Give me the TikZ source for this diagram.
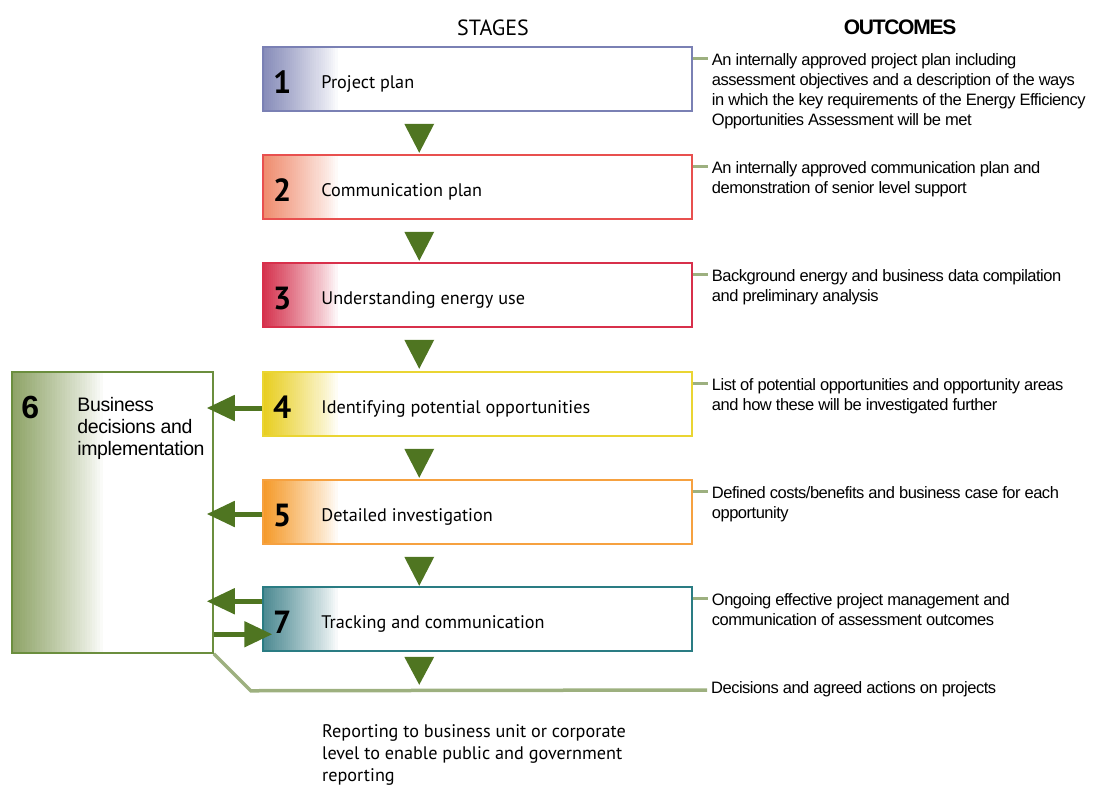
\documentclass[tikz,border=0pt]{standalone}
\usepackage{fontspec}
\setmainfont{PT Sans}
\newfontfamily\outfont[LetterSpace=-3]{Liberation Sans}
\newfontfamily\sidefont[LetterSpace=-2]{Liberation Sans}
\newfontfamily\headfont[LetterSpace=-6]{Liberation Sans}
\usetikzlibrary{arrows.meta,calc}

\definecolor{darkgreen}{RGB}{79,117,33}
\definecolor{palegreen}{RGB}{157,176,127}
\definecolor{blueA}{RGB}{135,140,185}\definecolor{blueB}{RGB}{122,128,180}
\definecolor{redA}{RGB}{239,140,110}\definecolor{redB}{RGB}{232,80,79}
\definecolor{crimA}{RGB}{213,52,79}\definecolor{crimB}{RGB}{216,48,75}
\definecolor{yelA}{RGB}{232,206,32}\definecolor{yelB}{RGB}{234,213,50}
\definecolor{orA}{RGB}{245,154,42}\definecolor{orB}{RGB}{246,161,64}
\definecolor{tealA}{RGB}{77,138,146}\definecolor{tealB}{RGB}{42,124,131}
\definecolor{grnA}{RGB}{143,164,104}\definecolor{grnB}{RGB}{107,142,62}

\tikzset{
  stagebox/.style={draw, line width=1.5pt, fill=white, minimum width=429pt,
    minimum height=64pt, inner sep=0pt},
  digit/.style={font=\fontsize{32}{32}\selectfont\bfseries, inner sep=0pt},
  stagelabel/.style={font=\fontsize{18.2}{22}\selectfont, inner sep=0pt},
  outcome/.style={font=\outfont\fontsize{16.5}{20}\selectfont, align=left,
    inner sep=0pt, anchor=north west},
  downtri/.style={fill=darkgreen},
  sidearrow/.style={draw=darkgreen, line width=5pt,
    -{Triangle[length=28pt,width=25pt]}},
  outlink/.style={draw=palegreen, line width=3.5pt},
}

% colour fading to white over the left part of a box (strips)
\newcommand\fadeleft[2]{% colour, width
  \foreach \i in {0,...,35}{%
    \pgfmathsetmacro\p{100*(1-\i/36)^0.85}%
    \fill[#1!\p!white]
      ($(path picture bounding box.north west)+({#2*\i/36},0)$) rectangle
      ($(path picture bounding box.south west)+({#2*(\i+1)/36+0.6},0)$);}%
}
% one stage: name, top edge, gradient colour, border colour, number, label
\newcommand\stagebox[6]{%
  \node[stagebox, draw=#4, path picture={\fadeleft{#3}{74}}]
    (#1) at (477.5,{#2+32}) {};
  \node[digit, anchor=base] (#1n) at ($(#1.west)+(20,14)$) {#5};
  \node[stagelabel, anchor=base west] (#1t) at ($(#1.west)+(59,9)$) {#6};
}
% downward triangle below a stage: name, gap above, tip offset
\newcommand\tribelow[3]{%
  \fill[downtri] ($(#1.south west)+(142,#2)$) -- ($(#1.south west)+(172,#2)$)
    -- ($(#1.south west)+(157,#3)$) -- cycle;
}
% outcome text with its short link from the stage
\newcommand\outcome[3]{%
  \coordinate (#1c) at ($(#2.north east)+(15,12)$);
  \node[outcome] (#1) at ($(#2.north east)+(19,7)$) {#3};
  \draw[outlink] ($(#2.north east)+(0,12)$) -- (#1c);
}

\begin{document}
\begin{tikzpicture}[x=1pt,y=-1pt]
\useasboundingbox (0,0) rectangle (1094,785);

\node[font=\fontsize{22}{22}\selectfont] (stages) at (493,28) {STAGES};
\node[font=\headfont\bfseries\fontsize{21}{21}\selectfont] (outcomes) at (900,27) {OUTCOMES};

\stagebox{s1}{47}{blueA}{blueB}{1}{Project plan}
\stagebox{s2}{155}{redA}{redB}{2}{Communication plan}
\stagebox{s3}{263}{crimA}{crimB}{3}{Understanding energy use}
\stagebox{s4}{372}{yelA}{yelB}{4}{Identifying potential opportunities}
\stagebox{s5}{480}{orA}{orB}{5}{Detailed investigation}
\stagebox{s7}{587}{tealA}{tealB}{7}{Tracking and communication}

\tribelow{s1}{12}{41}\tribelow{s2}{12}{41}\tribelow{s3}{12}{41}
\tribelow{s4}{12}{41}\tribelow{s5}{12}{41}\tribelow{s7}{5}{33}

% stage 6, the side box
\node[draw=grnB, line width=1.5pt, fill=white, minimum width=201pt,
  minimum height=281pt, inner sep=0pt, path picture={\fadeleft{grnA}{90}}]
  (s6) at (112.5,512.5) {};
\node[font=\outfont\fontsize{32}{32}\selectfont\bfseries, anchor=base, inner sep=0pt]
  (s6n) at ($(s6.north west)+(19,47)$) {6};
\node[font=\sidefont\fontsize{19.5}{22}\selectfont, align=left, anchor=north west, inner sep=0pt]
  (s6t) at ($(s6.north west)+(66,26)$) {Business\\decisions and\\implementation};

% arrows between the stages and stage 6
\draw[sidearrow] ($(s4.west)+(0,4)$) -- ($(s6.east |- s4.west)+(-7,4)$);
\draw[sidearrow] ($(s5.west)+(0,2)$) -- ($(s6.east |- s5.west)+(-7,2)$);
\draw[sidearrow] ($(s7.north west)+(0,15)$) -- ($(s6.east |- s7.north west)+(-7,15)$);
\draw[sidearrow] ($(s6.east |- s7.north west)+(0,48)$) -- ($(s7.north west)+(10,48)$);

% outcomes
\outcome{o1}{s1}{An internally approved project plan including\\assessment objectives and a description of the ways\\in which the key requirements of the Energy Efficiency\\Opportunities Assessment will be met}
\outcome{o2}{s2}{An internally approved communication plan and\\demonstration of senior level support}
\outcome{o3}{s3}{Background energy and business data compilation\\and preliminary analysis}
\outcome{o4}{s4}{List of potential opportunities and opportunity areas\\and how these will be investigated further}
\outcome{o5}{s5}{Defined costs/benefits and business case for each\\opportunity}
\outcome{o7}{s7}{Ongoing effective project management and\\communication of assessment outcomes}

% decisions link from stage 6
\coordinate (obc) at (707,690);
\node[outcome, anchor=west] (ob) at (711,689) {Decisions and agreed actions on projects};
\draw[outlink, line join=miter] (s6.south east) -- ++(37,37) -- (obc);

\node[stagelabel, align=left, anchor=north west]
  (report) at (322,724) {Reporting to business unit or corporate\\level to enable public and government\\reporting};
\end{tikzpicture}
\end{document}
